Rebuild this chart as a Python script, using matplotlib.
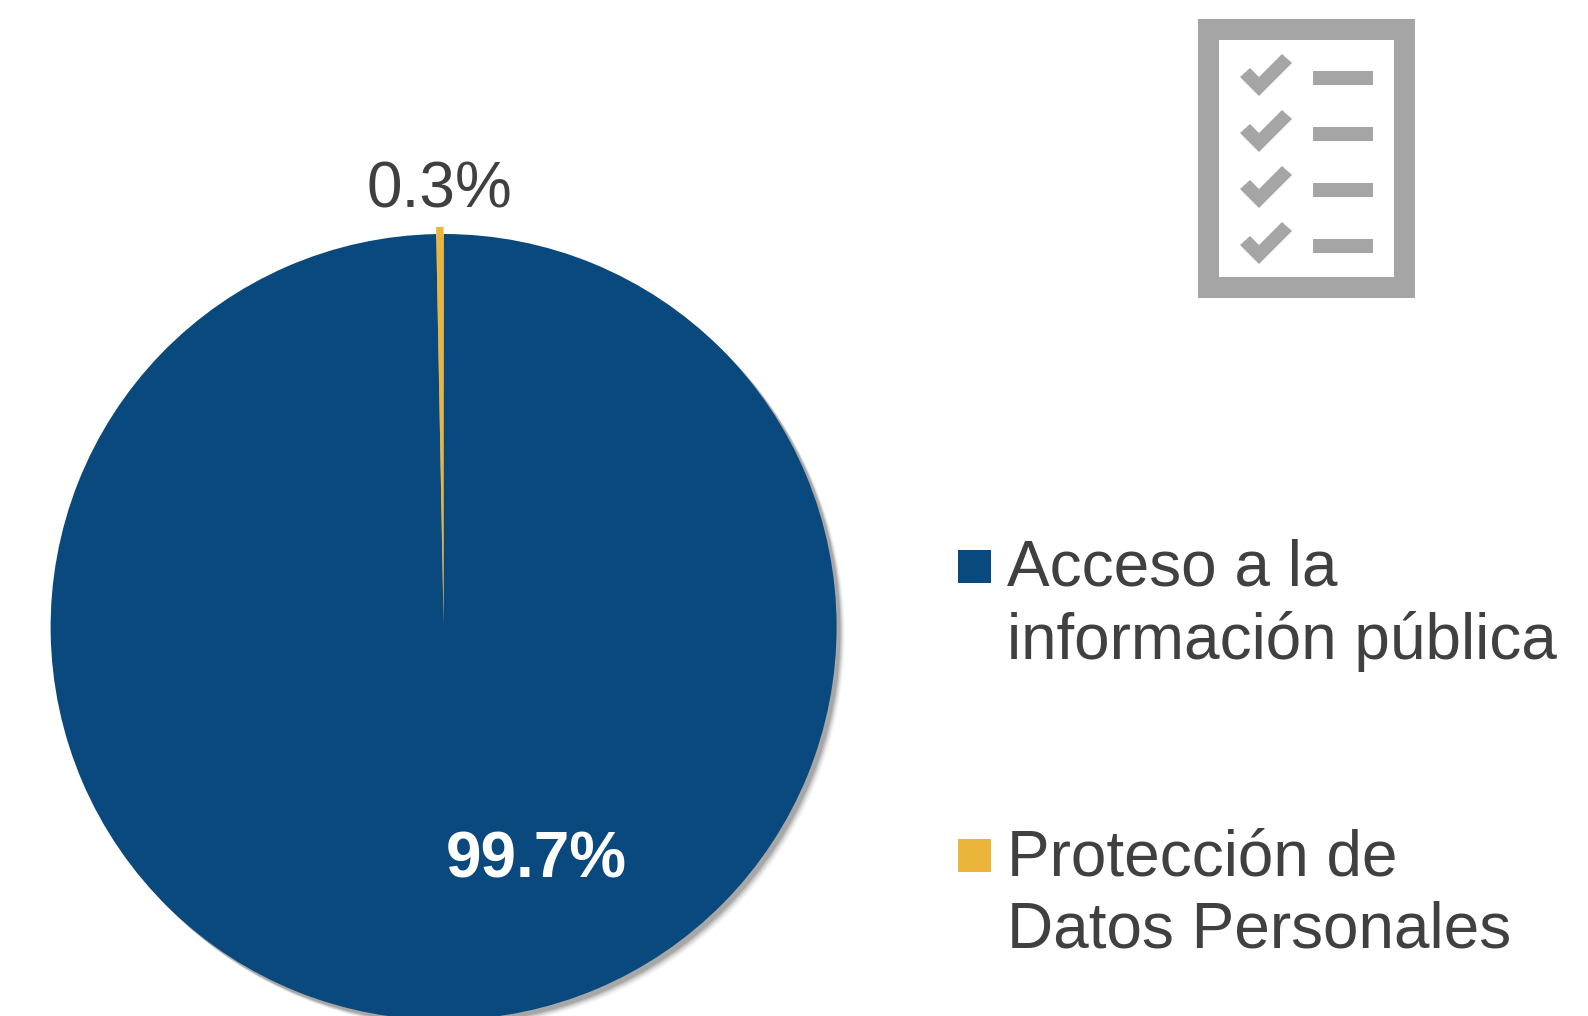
import matplotlib
matplotlib.use("Agg")
import matplotlib.pyplot as plt
from matplotlib.patches import Rectangle, Polygon
import matplotlib.patheffects as pe

W, H = 1588, 1016

# data
categories = ["Acceso a la\ninformación pública", "Protección de\nDatos Personales"]
values = [99.7, 0.3]
colors = ["#09497d", "#ebb43a"]

plt.rcParams["font.family"] = ["Liberation Sans", "DejaVu Sans"]
text_color = "#404040"
icon_color = "#a5a5a5"

fig = plt.figure(figsize=(W / 100, H / 100), dpi=100, facecolor="white")

# pie axes, the circle runs off the bottom of the figure
cx, cy, r = 443.6, 627, 393
ax = fig.add_axes([(cx - r) / W, 1 - (cy + r) / H, 2 * r / W, 2 * r / H])
wedges, _ = ax.pie(values, colors=colors, startangle=90, counterclock=False,
                   radius=1, explode=[0, 0.018], wedgeprops={"linewidth": 0})
ax.set_xlim(-1, 1)
ax.set_ylim(-1, 1)
ax.axis("off")
for w in wedges:
    w.set_clip_on(False)

# soft grey shadow on lower right edge
shadow = [pe.SimplePatchShadow(offset=(o, -o), shadow_rgbFace="#808080", alpha=a)
          for o, a in [(6.0, 0.06), (5.2, 0.10), (4.4, 0.16), (3.6, 0.25), (2.8, 0.40)]]
wedges[0].set_path_effects(shadow + [pe.Normal()])

# overlay in pixel coordinates for text and icon
ov = fig.add_axes([0, 0, 1, 1])
ov.set_xlim(0, W)
ov.set_ylim(H, 0)
ov.axis("off")
ov.patch.set_alpha(0)

ov.text(439.5, 191, f"{values[1]}%", fontsize=46, color=text_color, ha="center", va="center")
ov.text(536, 860, f"{values[0]}%", fontsize=46, color="white", fontweight="bold",
        ha="center", va="center")

# legend
legend_y = [566, 855]
text_y = [605.5, 894.5]
for name, col, ly, ty in zip(categories, colors, legend_y, text_y):
    ov.add_patch(Rectangle((958, ly - 16.5), 33, 33, facecolor=col, linewidth=0))
    ov.text(1007, ty, name, fontsize=46, color=text_color, ha="left", va="center",
            linespacing=1.26)

# checklist icon
ov.add_patch(Rectangle((1198, 19), 217, 279, facecolor=icon_color, linewidth=0))
ov.add_patch(Rectangle((1219, 40), 175, 237, facecolor="white", linewidth=0))
check = [(1240, 77), (1250, 68), (1259, 77), (1282, 54), (1292, 63), (1259, 96)]
for i in range(4):
    dy = 56 * i
    ov.add_patch(Polygon([(x, y + dy) for x, y in check], facecolor=icon_color, linewidth=0))
    ov.add_patch(Rectangle((1313, 71 + dy), 60, 14, facecolor=icon_color, linewidth=0))

fig.savefig("out.png", dpi=100, facecolor="white")
